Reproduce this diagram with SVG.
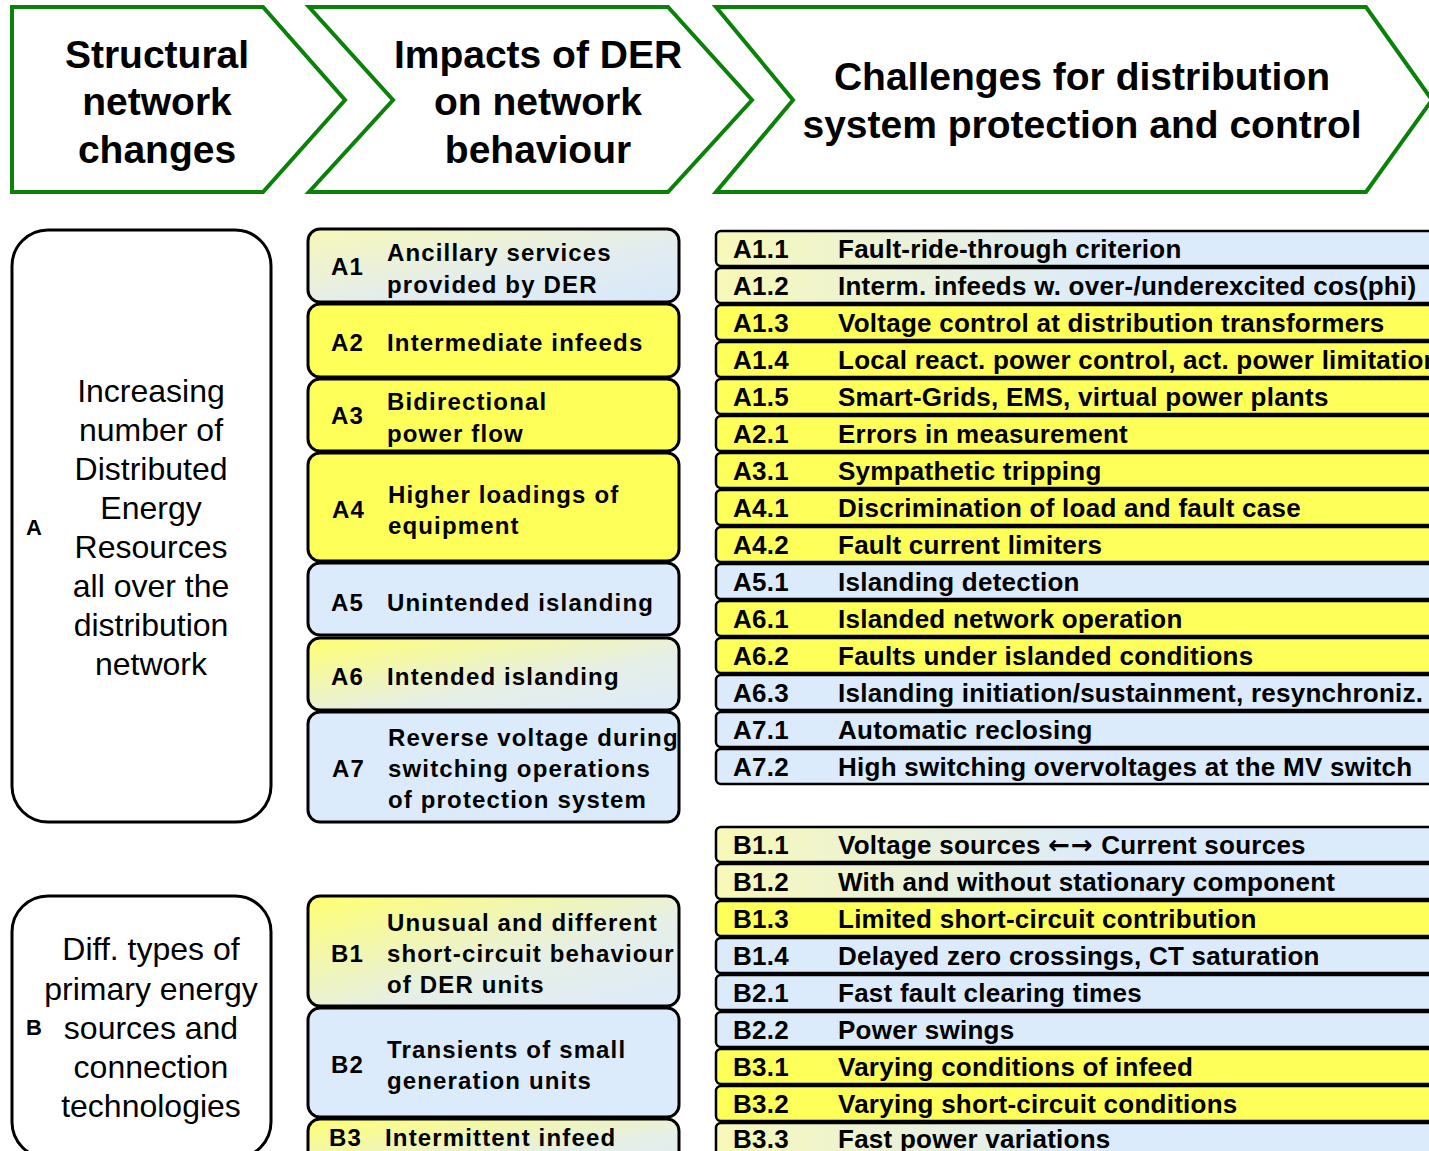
<svg xmlns="http://www.w3.org/2000/svg" width="1429" height="1151" viewBox="0 0 1429 1151">
<defs>
<style>
.chev{fill:#fff;stroke:#0a820a;stroke-width:4;stroke-linejoin:miter}
.ht{font-family:"Liberation Sans",Arial,sans-serif;font-weight:bold;font-size:39px;fill:#000;text-anchor:middle}
.lbox{fill:#fff;stroke:#000;stroke-width:3}
.lt{font-family:"Liberation Sans",Arial,sans-serif;font-size:32px;fill:#000;text-anchor:middle}
.ll{font-family:"Liberation Sans",Arial,sans-serif;font-weight:bold;font-size:22px;fill:#000}
.mbox{stroke:#000;stroke-width:3}
.mt{font-family:"Liberation Sans",Arial,sans-serif;font-weight:bold;font-size:24px;letter-spacing:1.15px;fill:#000}
.row{stroke:#000;stroke-width:2.5}
.rt{font-family:"Liberation Sans",Arial,sans-serif;font-weight:bold;font-size:26px;letter-spacing:0.25px;fill:#000}
.arr{font-family:"DejaVu Sans",sans-serif;font-weight:bold;font-size:26px;letter-spacing:1px}
.y{fill:#ffff5a}
.b{fill:#dcebfb}
.gh{fill:url(#gh)}
.gd{fill:url(#gd)}
.gp{fill:url(#gp)}
</style>
<linearGradient id="gh" x1="0" y1="0" x2="1" y2="0">
<stop offset="0" stop-color="#f8f8b8"/>
<stop offset="0.5" stop-color="#dcebfb"/>
<stop offset="1" stop-color="#dcebfb"/>
</linearGradient>
<linearGradient id="gd" x1="0" y1="0" x2="1" y2="1">
<stop offset="0" stop-color="#ffff70"/>
<stop offset="0.6" stop-color="#e6efe6"/>
<stop offset="1" stop-color="#dcebfb"/>
</linearGradient>
<linearGradient id="gp" x1="0" y1="0" x2="1" y2="1">
<stop offset="0" stop-color="#f8f8b8"/>
<stop offset="0.6" stop-color="#e2ecf0"/>
<stop offset="1" stop-color="#d8e8fb"/>
</linearGradient>
</defs>
<rect width="1429" height="1151" fill="#fff"/>

<g id="header1">
<polygon class="chev" points="12,7 263,7 345,100 263,192 12,192"/>
<text class="ht" x="157" y="68">Structural</text>
<text class="ht" x="157" y="115">network</text>
<text class="ht" x="157" y="163">changes</text>
</g>
<g id="header2">
<polygon class="chev" points="309,7 668,7 752,100 668,192 309,192 393,100"/>
<text class="ht" x="538" y="68">Impacts of DER</text>
<text class="ht" x="538" y="115">on network</text>
<text class="ht" x="538" y="163">behaviour</text>
</g>
<g id="header3">
<polygon class="chev" points="716,7 1366,7 1432,100 1366,192 716,192 793,100"/>
<text class="ht" x="1082" y="90">Challenges for distribution</text>
<text class="ht" x="1082" y="138">system protection and control</text>
</g>

<g id="groupA">
<rect class="lbox" x="12" y="230" width="259" height="592" rx="36"/>
<text class="ll" x="26" y="535">A</text>
<text class="lt" x="151" y="402">Increasing</text>
<text class="lt" x="151" y="441">number of</text>
<text class="lt" x="151" y="480">Distributed</text>
<text class="lt" x="151" y="519">Energy</text>
<text class="lt" x="151" y="558">Resources</text>
<text class="lt" x="151" y="597">all over the</text>
<text class="lt" x="151" y="636">distribution</text>
<text class="lt" x="151" y="675">network</text>
</g>
<g id="groupB">
<rect class="lbox" x="12" y="896" width="259" height="262" rx="36"/>
<text class="ll" x="26" y="1035">B</text>
<text class="lt" x="151" y="960">Diff. types of</text>
<text class="lt" x="151" y="1000">primary energy</text>
<text class="lt" x="151" y="1039">sources and</text>
<text class="lt" x="151" y="1078">connection</text>
<text class="lt" x="151" y="1117">technologies</text>
</g>

<g id="A1"><rect class="mbox gp" x="308" y="229" width="371" height="73" rx="12"/>
<text class="mt" x="331" y="275">A1</text><text class="mt" x="387" y="261">Ancillary services</text><text class="mt" x="387" y="293">provided by DER</text></g>
<g id="A2"><rect class="mbox y" x="308" y="304" width="371" height="73" rx="12"/>
<text class="mt" x="331" y="351">A2</text><text class="mt" x="387" y="351">Intermediate infeeds</text></g>
<g id="A3"><rect class="mbox y" x="308" y="379" width="371" height="72" rx="12"/>
<text class="mt" x="331" y="424">A3</text><text class="mt" x="387" y="410">Bidirectional</text><text class="mt" x="387" y="442">power flow</text></g>
<g id="A4"><rect class="mbox y" x="308" y="453" width="371" height="108" rx="12"/>
<text class="mt" x="332" y="518">A4</text><text class="mt" x="388" y="503">Higher loadings of</text><text class="mt" x="388" y="534">equipment</text></g>
<g id="A5"><rect class="mbox b" x="308" y="563" width="371" height="72" rx="12"/>
<text class="mt" x="331" y="611">A5</text><text class="mt" x="387" y="611">Unintended islanding</text></g>
<g id="A6"><rect class="mbox gd" x="308" y="638" width="371" height="72" rx="12"/>
<text class="mt" x="331" y="685">A6</text><text class="mt" x="387" y="685">Intended islanding</text></g>
<g id="A7"><rect class="mbox b" x="308" y="712" width="371" height="110" rx="12"/>
<text class="mt" x="332" y="777">A7</text><text class="mt" x="388" y="746">Reverse voltage during</text><text class="mt" x="388" y="777">switching operations</text><text class="mt" x="388" y="808">of protection system</text></g>
<g id="B1"><rect class="mbox gd" x="308" y="896" width="371" height="110" rx="12"/>
<text class="mt" x="331" y="962">B1</text><text class="mt" x="387" y="931">Unusual and different</text><text class="mt" x="387" y="962">short-circuit behaviour</text><text class="mt" x="387" y="993">of DER units</text></g>
<g id="B2"><rect class="mbox b" x="308" y="1008" width="371" height="109" rx="12"/>
<text class="mt" x="331" y="1073">B2</text><text class="mt" x="387" y="1058">Transients of small</text><text class="mt" x="387" y="1089">generation units</text></g>
<g id="B3"><rect class="mbox gd" x="308" y="1119" width="371" height="60" rx="12"/>
<text class="mt" x="329" y="1146">B3</text><text class="mt" x="385" y="1146">Intermittent infeed</text></g>

<g id="rowsA">
<g id="A1.1"><rect class="row gh" x="716" y="231" width="780" height="35" rx="5"/><text class="rt" x="733" y="258">A1.1</text><text class="rt" x="838" y="258">Fault-ride-through criterion</text></g>
<g id="A1.2"><rect class="row gh" x="716" y="268" width="780" height="35" rx="5"/><text class="rt" x="733" y="295">A1.2</text><text class="rt" x="838" y="295">Interm. infeeds w. over-/underexcited cos(phi)</text></g>
<g id="A1.3"><rect class="row y" x="716" y="305" width="780" height="35" rx="5"/><text class="rt" x="733" y="332">A1.3</text><text class="rt" x="838" y="332">Voltage control at distribution transformers</text></g>
<g id="A1.4"><rect class="row y" x="716" y="342" width="780" height="35" rx="5"/><text class="rt" x="733" y="369">A1.4</text><text class="rt" x="838" y="369">Local react. power control, act. power limitation</text></g>
<g id="A1.5"><rect class="row y" x="716" y="379" width="780" height="35" rx="5"/><text class="rt" x="733" y="406">A1.5</text><text class="rt" x="838" y="406">Smart-Grids, EMS, virtual power plants</text></g>
<g id="A2.1"><rect class="row y" x="716" y="416" width="780" height="35" rx="5"/><text class="rt" x="733" y="443">A2.1</text><text class="rt" x="838" y="443">Errors in measurement</text></g>
<g id="A3.1"><rect class="row y" x="716" y="453" width="780" height="35" rx="5"/><text class="rt" x="733" y="480">A3.1</text><text class="rt" x="838" y="480">Sympathetic tripping</text></g>
<g id="A4.1"><rect class="row y" x="716" y="490" width="780" height="35" rx="5"/><text class="rt" x="733" y="517">A4.1</text><text class="rt" x="838" y="517">Discrimination of load and fault case</text></g>
<g id="A4.2"><rect class="row y" x="716" y="527" width="780" height="35" rx="5"/><text class="rt" x="733" y="554">A4.2</text><text class="rt" x="838" y="554">Fault current limiters</text></g>
<g id="A5.1"><rect class="row b" x="716" y="564" width="780" height="35" rx="5"/><text class="rt" x="733" y="591">A5.1</text><text class="rt" x="838" y="591">Islanding detection</text></g>
<g id="A6.1"><rect class="row y" x="716" y="601" width="780" height="35" rx="5"/><text class="rt" x="733" y="628">A6.1</text><text class="rt" x="838" y="628">Islanded network operation</text></g>
<g id="A6.2"><rect class="row y" x="716" y="638" width="780" height="35" rx="5"/><text class="rt" x="733" y="665">A6.2</text><text class="rt" x="838" y="665">Faults under islanded conditions</text></g>
<g id="A6.3"><rect class="row b" x="716" y="675" width="780" height="35" rx="5"/><text class="rt" x="733" y="702">A6.3</text><text class="rt" x="838" y="702">Islanding initiation/sustainment, resynchroniz.</text></g>
<g id="A7.1"><rect class="row b" x="716" y="712" width="780" height="35" rx="5"/><text class="rt" x="733" y="739">A7.1</text><text class="rt" x="838" y="739">Automatic reclosing</text></g>
<g id="A7.2"><rect class="row b" x="716" y="749" width="780" height="35" rx="5"/><text class="rt" x="733" y="776">A7.2</text><text class="rt" x="838" y="776">High switching overvoltages at the MV switch</text></g>
</g>

<g id="rowsB">
<g id="B1.1"><rect class="row gh" x="716" y="827" width="780" height="35" rx="5"/><text class="rt" x="733" y="854">B1.1</text><text class="rt" x="838" y="854">Voltage sources <tspan class="arr">←→</tspan> Current sources</text></g>
<g id="B1.2"><rect class="row gh" x="716" y="864" width="780" height="35" rx="5"/><text class="rt" x="733" y="891">B1.2</text><text class="rt" x="838" y="891">With and without stationary component</text></g>
<g id="B1.3"><rect class="row y" x="716" y="901" width="780" height="35" rx="5"/><text class="rt" x="733" y="928">B1.3</text><text class="rt" x="838" y="928">Limited short-circuit contribution</text></g>
<g id="B1.4"><rect class="row b" x="716" y="938" width="780" height="35" rx="5"/><text class="rt" x="733" y="965">B1.4</text><text class="rt" x="838" y="965">Delayed zero crossings, CT saturation</text></g>
<g id="B2.1"><rect class="row b" x="716" y="975" width="780" height="35" rx="5"/><text class="rt" x="733" y="1002">B2.1</text><text class="rt" x="838" y="1002">Fast fault clearing times</text></g>
<g id="B2.2"><rect class="row b" x="716" y="1012" width="780" height="35" rx="5"/><text class="rt" x="733" y="1039">B2.2</text><text class="rt" x="838" y="1039">Power swings</text></g>
<g id="B3.1"><rect class="row y" x="716" y="1049" width="780" height="35" rx="5"/><text class="rt" x="733" y="1076">B3.1</text><text class="rt" x="838" y="1076">Varying conditions of infeed</text></g>
<g id="B3.2"><rect class="row y" x="716" y="1086" width="780" height="35" rx="5"/><text class="rt" x="733" y="1113">B3.2</text><text class="rt" x="838" y="1113">Varying short-circuit conditions</text></g>
<g id="B3.3"><rect class="row gh" x="716" y="1123" width="780" height="35" rx="5"/><text class="rt" x="733" y="1148">B3.3</text><text class="rt" x="838" y="1148">Fast power variations</text></g>
</g>
<g id="connectors"/>
</svg>
